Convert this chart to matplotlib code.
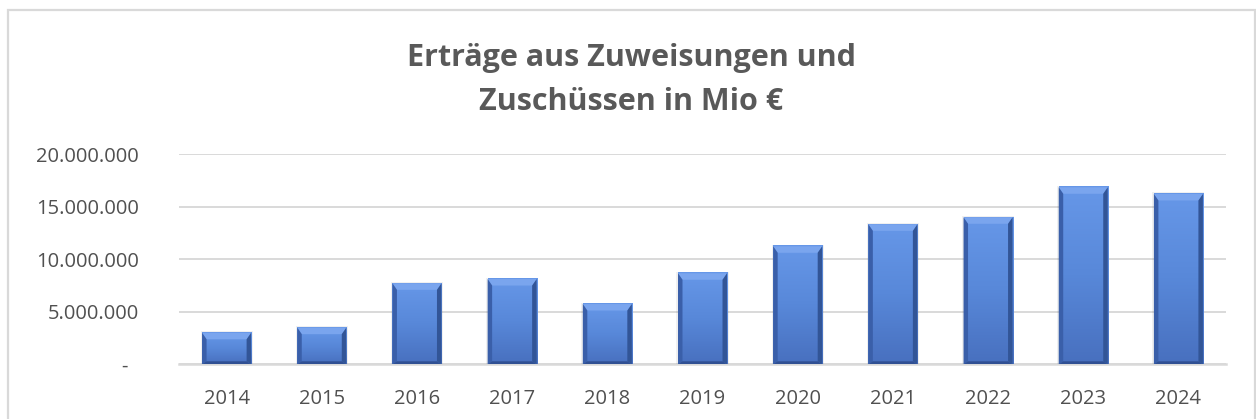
#!/usr/bin/env python3
"""Bar chart: Erträge aus Zuweisungen und Zuschüssen (2014-2024)."""

import numpy as np
import matplotlib
matplotlib.use("Agg")
import matplotlib.pyplot as plt
from matplotlib.colors import LinearSegmentedColormap
from matplotlib.patches import Polygon, Rectangle
from matplotlib.ticker import FuncFormatter
import matplotlib.transforms as mtransforms

years = ["2014", "2015", "2016", "2017", "2018", "2019",
         "2020", "2021", "2022", "2023", "2024"]
values = [3.0e6, 3.49e6, 7.71e6, 8.12e6, 5.74e6, 8.67e6,
          11.24e6, 13.33e6, 14.0e6, 16.86e6, 16.22e6]
y_ticks = [0, 5e6, 10e6, 15e6, 20e6]
title = "Erträge aus Zuweisungen und\nZuschüssen in Mio €"

W, H = 1256, 419
TEXT = "#595959"
GRID = "#D9D9D9"

plt.rcParams["font.family"] = ["Open Sans", "DejaVu Sans"]

fig = plt.figure(figsize=(W / 100, H / 100), dpi=100)
fig.patch.set_facecolor("white")

# chart area border (bottom runs off the picture)
fig.add_artist(Rectangle((8 / W, -0.05), (1255 - 8) / W, (H - 10) / H + 0.05,
                         transform=fig.transFigure, fill=False,
                         edgecolor=GRID, linewidth=1.6))

ax = fig.add_axes([179 / W, (H - 364.3) / H, (1226 - 179) / W, 210 / H])

x = np.arange(len(years))
bar_w = 0.515
bars = ax.bar(x, values, width=bar_w, color="#5585D6", zorder=3, linewidth=0)

ax.set_xlim(-0.5, len(years) - 0.5)
ax.set_ylim(0, 20e6)

# pixel -> data conversion for the bevel
px_x = (len(years)) / (1226 - 179)
px_y = 20e6 / 210

grad_cmap = LinearSegmentedColormap.from_list("bar", ["#4870BF", "#5888D9", "#6697E8"])
grad = np.linspace(0, 1, 64).reshape(-1, 1)

for b in bars:
    x0 = b.get_x()
    x1 = x0 + b.get_width()
    h = b.get_height()
    ax.imshow(grad, extent=[x0, x1, 0, h], origin="lower", aspect="auto",
              cmap=grad_cmap, zorder=3.1, interpolation="bilinear")
    s = 4.5 * px_x
    t = 6.5 * px_y
    bt = 3 * px_y
    # soft shadow
    ax.add_patch(Rectangle((x0 - 1.5 * px_x, 0), b.get_width() + 3 * px_x, h + 1.5 * px_y,
                           facecolor="#000000", alpha=0.06, linewidth=0, zorder=2.9))
    ax.add_patch(Polygon([(x0, h), (x1, h), (x1 - s, h - t), (x0 + s, h - t)],
                         closed=True, facecolor="#7AA5EE", linewidth=0, zorder=3.2))
    ax.add_patch(Polygon([(x0, h), (x0 + s, h - t), (x0 + s, bt), (x0, 0)],
                         closed=True, facecolor="#3A5FA9", linewidth=0, zorder=3.2))
    ax.add_patch(Polygon([(x1, h), (x1 - s, h - t), (x1 - s, bt), (x1, 0)],
                         closed=True, facecolor="#325597", linewidth=0, zorder=3.2))
    ax.add_patch(Polygon([(x0, 0), (x1, 0), (x1 - s, bt), (x0 + s, bt)],
                         closed=True, facecolor="#305093", linewidth=0, zorder=3.2))

ax.set_xlim(-0.5, len(years) - 0.5)
ax.set_ylim(0, 20e6)

ax.set_yticks(y_ticks)


def fmt(v, pos):
    if v == 0:
        return "-"
    return f"{int(v):,}".replace(",", ".")


ax.yaxis.set_major_formatter(FuncFormatter(fmt))
ax.set_xticks(x)
ax.set_xticklabels(years)

ax.grid(axis="y", color=GRID, linewidth=1.4, zorder=0)
ax.set_axisbelow(True)
for side in ("top", "right", "left"):
    ax.spines[side].set_visible(False)
ax.spines["bottom"].set_color(GRID)
ax.spines["bottom"].set_linewidth(1.8)
ax.spines["bottom"].set_zorder(2)

ax.tick_params(axis="both", length=0, labelsize=14.5, labelcolor="#505050")
ax.tick_params(axis="y", pad=29)
ax.tick_params(axis="x", pad=18)

# the dash for zero sits a bit left (accounting format)
zero_lbl = ax.get_yticklabels()[0]
zero_lbl.set_transform(zero_lbl.get_transform() +
                       mtransforms.ScaledTranslation(-11 / 100, 0, fig.dpi_scale_trans))

fig.text(631.5 / W, (H - 43) / H, title, ha="center", va="top",
         fontsize=22, fontweight="bold", color=TEXT, linespacing=1.63)

fig.savefig("out.png", dpi=100, facecolor="white")
